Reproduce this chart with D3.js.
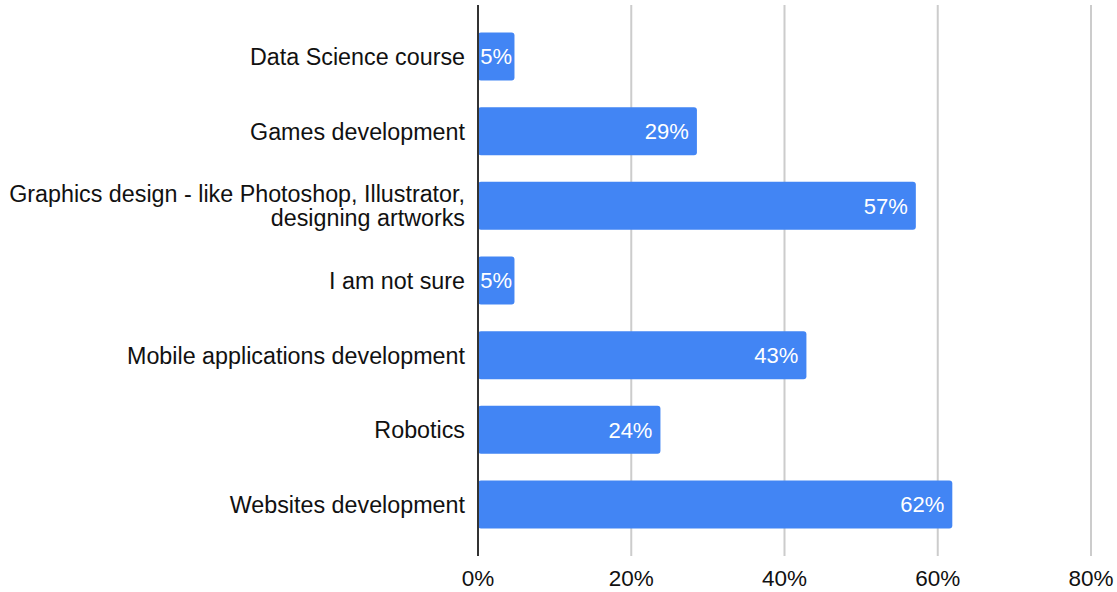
<!DOCTYPE html>
<html>
<head>
<meta charset="utf-8">
<script src="https://d3js.org/d3.v7.min.js"></script>
<style>
  body { margin: 0; background: #fff; }
  text { font-family: "Liberation Sans", Arial, Helvetica, sans-serif; }
</style>
</head>
<body>
<div id="chart"></div>
<script>
// survey answers (share of 21 respondents)
const categories = [
  'Data Science course',
  'Games development',
  'Graphics design - like Photoshop, Illustrator,\ndesigning artworks',
  'I am not sure',
  'Mobile applications development',
  'Robotics',
  'Websites development'
];
const values = [4.76, 28.57, 57.14, 4.76, 42.86, 23.81, 61.90];
const xTicks = [0, 20, 40, 60, 80];

const W = 1117, H = 592;
const x0 = 478, x1 = 1091;
const yTop = 5, yBot = 556;

const svg = d3.select('#chart').append('svg')
  .attr('width', W).attr('height', H);

const x = d3.scaleLinear().domain([0, 80]).range([x0, x1]);
const y = d3.scaleBand().domain(categories).range([yTop, yBot])
  .paddingInner(0.357).paddingOuter(0.368);

// vertical gridlines
svg.append('g').selectAll('line')
  .data(xTicks.filter(d => d > 0))
  .join('line')
  .attr('x1', d => x(d)).attr('x2', d => x(d))
  .attr('y1', yTop).attr('y2', yBot)
  .attr('stroke', '#cccccc').attr('stroke-width', 2);

// tick labels
svg.append('g').selectAll('text')
  .data(xTicks)
  .join('text')
  .attr('x', d => x(d))
  .attr('y', 586)
  .attr('text-anchor', 'middle')
  .attr('font-size', 22.5)
  .attr('fill', '#111')
  .text(d => d + '%');

// bars
const data = categories.map((c, i) => ({ c, v: values[i] }));
svg.append('g').selectAll('rect')
  .data(data)
  .join('rect')
  .attr('x', x(0))
  .attr('y', d => y(d.c))
  .attr('width', d => x(d.v) - x(0))
  .attr('height', y.bandwidth())
  .attr('rx', 3)
  .attr('fill', '#4285f4');

// value labels inside bars
svg.append('g').selectAll('text')
  .data(data)
  .join('text')
  .attr('x', d => (x(d.v) - x(0) < 50) ? (x(0) + x(d.v)) / 2 : x(d.v) - 8)
  .attr('y', d => y(d.c) + y.bandwidth() / 2)
  .attr('dy', '0.36em')
  .attr('text-anchor', d => (x(d.v) - x(0) < 50) ? 'middle' : 'end')
  .attr('font-size', 22)
  .attr('fill', '#fff')
  .text(d => Math.round(d.v) + '%');

// category labels
const lab = svg.append('g').selectAll('text')
  .data(categories)
  .join('text')
  .attr('text-anchor', 'end')
  .attr('font-size', 23.3)
  .attr('fill', '#111');

lab.each(function(c) {
  const lines = c.split('\n');
  const cy = y(c) + y.bandwidth() / 2;
  const lh = 24;
  d3.select(this).selectAll('tspan')
    .data(lines)
    .join('tspan')
    .attr('x', 465)
    .attr('y', (d, i) => cy + (i - (lines.length - 1) / 2) * lh)
    .attr('dy', '0.36em')
    .text(d => d);
});

// zero axis line
svg.append('line')
  .attr('x1', x(0)).attr('x2', x(0))
  .attr('y1', yTop).attr('y2', yBot)
  .attr('stroke', '#333').attr('stroke-width', 2);
</script>
</body>
</html>
